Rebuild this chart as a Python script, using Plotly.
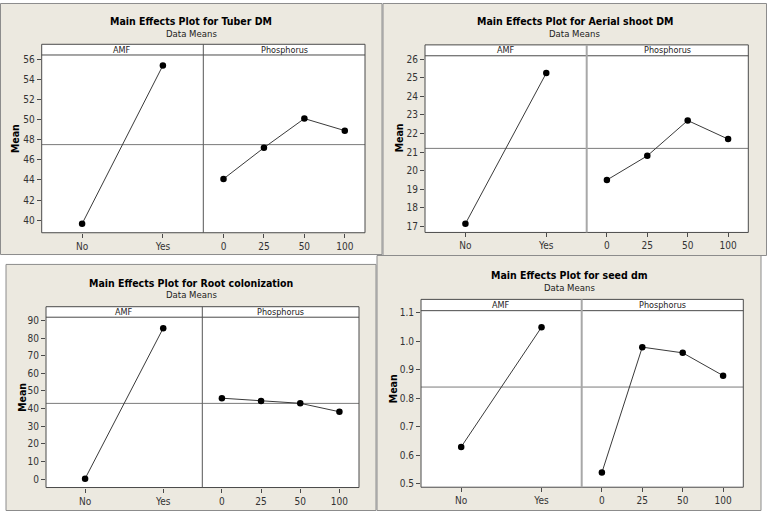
import plotly.graph_objects as go

W, H = 767, 513

# ---------------- data ----------------
amf_levels = ["No", "Yes"]
phos_levels = ["0", "25", "50", "100"]

titles = ["Main Effects Plot for Tuber DM", "Main Effects Plot for Aerial shoot DM",
          "Main Effects Plot for Root colonization", "Main Effects Plot for seed dm"]
subtitle = "Data Means"

tuber_amf = [39.64, 55.38]
tuber_phos = [44.1, 47.2, 50.1, 48.9]

shoot_amf = [17.15, 25.25]
shoot_phos = [19.5, 20.8, 22.7, 21.7]

root_amf = [0.2, 85.7]
root_phos = [45.9, 44.3, 43.0, 38.2]

seed_amf = [0.63, 1.05]
seed_phos = [0.54, 0.98, 0.96, 0.88]

tick_vals = [
    [40, 42, 44, 46, 48, 50, 52, 54, 56],
    [17, 18, 19, 20, 21, 22, 23, 24, 25, 26],
    [0, 10, 20, 30, 40, 50, 60, 70, 80, 90],
    [0.5, 0.6, 0.7, 0.8, 0.9, 1.0, 1.1],
]
tick_fmt = ["d", "d", "d", ".1f"]

amf_data = [tuber_amf, shoot_amf, root_amf, seed_amf]
phos_data = [tuber_phos, shoot_phos, root_phos, seed_phos]

# ---------------- geometry (pixels) ----------------
panels = [
    dict(L=41.7, R=365.0, D=203.3, T=41.7, S=52.5, B=232.0, yr=[38.75, 56.42],
         ty=18.5, sy=30.5, mx=15.7, my=136.7, box=(0.5, 0.5, 382, 254), div="#555555", dw=1),
    dict(L=425.0, R=748.3, D=586.7, T=42.3, S=53.3, B=231.7, yr=[16.68, 26.18],
         ty=18.5, sy=30.7, mx=399, my=136.7, box=(383, 0.5, 766.5, 255), div="#a8a8a8", dw=2),
    dict(L=46.0, R=359.0, D=202.3, T=306.7, S=317.3, B=489.3, yr=[-4.84, 91.9],
         ty=282.8, sy=294.5, mx=21.7, my=398, box=(6, 264, 376, 512.5), div="#555555", dw=1),
    dict(L=421.0, R=743.3, D=581.7, T=299.3, S=310.7, B=489.0, yr=[0.4885, 1.108],
         ty=274.5, sy=286.9, mx=393, my=390, box=(377, 255, 761, 512.5), div="#a8a8a8", dw=2),
]

FONT = "Tahoma, 'DejaVu Sans Condensed', 'DejaVu Sans', sans-serif"
BEIGE = "#ece9e0"
FRAME = "#4a4a4a"
TICKC = "#333333"


def fx(px):
    return px / W


def fy(py):
    return 1 - py / H


fig = go.Figure()
shapes = []
annotations = []
layout_axes = {}

for i, p in enumerate(panels):
    x0, y0, x1, y1 = p["box"]
    shapes.append(dict(type="rect", xref="paper", yref="paper", x0=fx(x0), x1=fx(x1),
                       y0=fy(y1), y1=fy(y0), fillcolor=BEIGE,
                       line=dict(color="#8c8c8c", width=1), layer="below"))
    # white plot frame incl. strip
    shapes.append(dict(type="rect", xref="paper", yref="paper", x0=fx(p["L"]), x1=fx(p["R"]),
                       y0=fy(p["B"]), y1=fy(p["T"]), fillcolor="white",
                       line=dict(width=0), layer="below"))

    ia, ib = 2 * i + 1, 2 * i + 2
    xa, ya = f"xaxis{ia}", f"yaxis{ia}"
    xb, yb = f"xaxis{ib}", f"yaxis{ib}"
    ydom = [fy(p["B"]), fy(p["S"])]
    common_x = dict(showgrid=False, zeroline=False, ticks="outside", ticklen=4,
                    tickcolor=FRAME, tickwidth=1, showline=False,
                    tickfont=dict(family=FONT, size=10, color=TICKC), fixedrange=True)
    layout_axes[xa] = dict(common_x, domain=[fx(p["L"]), fx(p["D"])], range=[-0.5, 1.5],
                           tickvals=list(range(len(amf_levels))), ticktext=amf_levels,
                           anchor=f"y{ia}")
    layout_axes[xb] = dict(common_x, domain=[fx(p["D"]), fx(p["R"])], range=[-0.5, 3.5],
                           tickvals=list(range(len(phos_levels))), ticktext=phos_levels,
                           anchor=f"y{ib}")
    layout_axes[ya] = dict(domain=ydom, range=p["yr"], showgrid=False, zeroline=False,
                           ticks="outside", ticklen=4, tickcolor=FRAME, tickwidth=1,
                           tickvals=tick_vals[i], tickformat=tick_fmt[i],
                           tickfont=dict(family=FONT, size=10, color=TICKC),
                           anchor=f"x{ia}", fixedrange=True)
    layout_axes[yb] = dict(domain=ydom, range=p["yr"], showgrid=False, zeroline=False,
                           showticklabels=False, ticks="", anchor=f"x{ib}",
                           matches=f"y{ia}", fixedrange=True)

    a_vals = amf_data[i]
    b_vals = phos_data[i]
    grand = sum(a_vals) / len(a_vals)

    # reference (grand mean) lines
    fig.add_trace(go.Scatter(x=[-0.5, 1.5], y=[grand, grand], mode="lines",
                             line=dict(color="#7a7a7a", width=1), xaxis=f"x{ia}", yaxis=f"y{ia}",
                             hoverinfo="skip", showlegend=False))
    fig.add_trace(go.Scatter(x=[-0.5, 3.5], y=[grand, grand], mode="lines",
                             line=dict(color="#7a7a7a", width=1), xaxis=f"x{ib}", yaxis=f"y{ib}",
                             hoverinfo="skip", showlegend=False))
    # main effects
    fig.add_trace(go.Scatter(x=list(range(len(amf_levels))), y=a_vals, mode="lines+markers",
                             line=dict(color="#3a3a3a", width=1),
                             marker=dict(color="black", size=6.5),
                             xaxis=f"x{ia}", yaxis=f"y{ia}", showlegend=False))
    fig.add_trace(go.Scatter(x=list(range(len(phos_levels))), y=b_vals, mode="lines+markers",
                             line=dict(color="#3a3a3a", width=1),
                             marker=dict(color="black", size=6.5),
                             xaxis=f"x{ib}", yaxis=f"y{ib}", showlegend=False))

    # frame, strip line and divider
    shapes.append(dict(type="rect", xref="paper", yref="paper", x0=fx(p["L"]), x1=fx(p["R"]),
                       y0=fy(p["B"]), y1=fy(p["T"]), line=dict(color=FRAME, width=1)))
    shapes.append(dict(type="line", xref="paper", yref="paper", x0=fx(p["L"]), x1=fx(p["R"]),
                       y0=fy(p["S"]), y1=fy(p["S"]), line=dict(color=FRAME, width=1)))
    shapes.append(dict(type="line", xref="paper", yref="paper", x0=fx(p["D"]), x1=fx(p["D"]),
                       y0=fy(p["B"]), y1=fy(p["T"]), line=dict(color=p["div"], width=p["dw"])))

    # strip labels
    sy_mid = fy((p["T"] + p["S"]) / 2)
    annotations.append(dict(text="AMF", x=fx((p["L"] + p["D"]) / 2), y=sy_mid, xref="paper",
                            yref="paper", showarrow=False, xanchor="center", yanchor="middle",
                            font=dict(family=FONT, size=9, color="#222222")))
    annotations.append(dict(text="Phosphorus", x=fx((p["D"] + p["R"]) / 2), y=sy_mid, xref="paper",
                            yref="paper", showarrow=False, xanchor="center", yanchor="middle",
                            font=dict(family=FONT, size=9, color="#222222")))
    # titles
    cx = fx((x0 + x1) / 2)
    annotations.append(dict(text=f"<b>{titles[i]}</b>", x=cx, y=fy(p["ty"]), xref="paper",
                            yref="paper", showarrow=False, xanchor="center", yanchor="middle",
                            font=dict(family=FONT, size=10.5, color="black")))
    annotations.append(dict(text=subtitle, x=cx, y=fy(p["sy"]), xref="paper",
                            yref="paper", showarrow=False, xanchor="center", yanchor="middle",
                            font=dict(family=FONT, size=9.5, color="#222222")))
    annotations.append(dict(text="<b>Mean</b>", x=fx(p["mx"]), y=fy(p["my"]), xref="paper",
                            yref="paper", showarrow=False, xanchor="center", yanchor="middle",
                            textangle=-90, font=dict(family=FONT, size=10.5, color="black")))

fig.update_layout(
    width=W, height=H, margin=dict(l=0, r=0, t=0, b=0),
    paper_bgcolor="white", plot_bgcolor="rgba(0,0,0,0)",
    shapes=shapes, annotations=annotations, showlegend=False,
    **layout_axes,
)

fig.write_html("out.html", config={"displayModeBar": False, "staticPlot": True},
               post_script="document.body.style.margin='0';document.body.style.padding='0';"
                           "document.body.style.overflow='hidden';")
